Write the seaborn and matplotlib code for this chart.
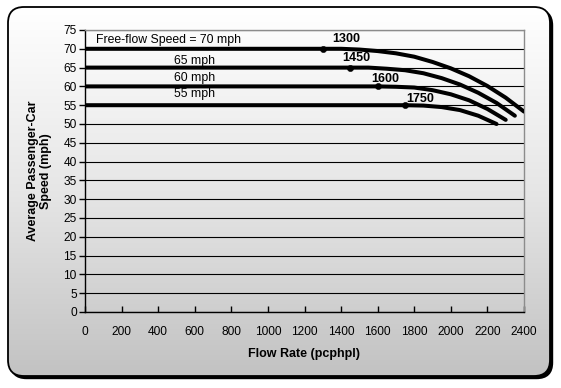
import numpy as np
import pandas as pd
import matplotlib
matplotlib.use("Agg")
import matplotlib.pyplot as plt
from matplotlib.patches import FancyBboxPatch
from matplotlib.colors import LinearSegmentedColormap
import seaborn as sns

# ---- data ----
flow_70 = [0, 1300, 1400, 1500, 1600, 1700, 1800, 1900, 2000, 2100, 2200, 2300, 2400]
speed_70 = [70, 70, 70.0, 69.8, 69.4, 68.8, 67.9, 66.5, 64.8, 62.7, 60.1, 57.0, 53.3]
flow_65 = [0, 1450, 1550, 1650, 1750, 1850, 1950, 2050, 2150, 2250, 2350]
speed_65 = [65, 65, 65.0, 64.7, 64.3, 63.5, 62.2, 60.5, 58.3, 55.6, 52.2]
flow_60 = [0, 1600, 1700, 1800, 1900, 2000, 2100, 2200, 2300]
speed_60 = [60, 60, 59.9, 59.7, 59.0, 57.9, 56.3, 54.0, 51.1]
flow_55 = [0, 1750, 1850, 1950, 2050, 2150, 2250]
speed_55 = [55, 55, 54.9, 54.5, 53.7, 52.2, 50.0]

series_names = ["70", "65", "60", "55"]
series_labels = ["Free-flow Speed = 70 mph", "65 mph", "60 mph", "55 mph"]
break_flows = [1300, 1450, 1600, 1750]
break_speeds = [70, 65, 60, 55]
break_labels = ["1300", "1450", "1600", "1750"]

x_ticks = list(range(0, 2401, 200))
y_ticks = list(range(0, 76, 5))

frames = []
for name, fx, sy in zip(series_names,
                        [flow_70, flow_65, flow_60, flow_55],
                        [speed_70, speed_65, speed_60, speed_55]):
    frames.append(pd.DataFrame({"flow": fx, "speed": sy, "series": name}))
df = pd.concat(frames, ignore_index=True)
bp = pd.DataFrame({"flow": break_flows, "speed": break_speeds})

sns.set_theme(style="white")
plt.rcParams["font.family"] = ["Liberation Sans", "DejaVu Sans"]

W, H = 561, 388
fig = plt.figure(figsize=(W / 100, H / 100), dpi=100)
fig.patch.set_facecolor("white")

# ---- background chart area (rounded, gradient, shadow) ----
bg = fig.add_axes([0, 0, 1, 1])
bg.set_xlim(0, W)
bg.set_ylim(H, 0)
bg.axis("off")
x0, y0, w, h = 8, 7, 542, 369
shadow = FancyBboxPatch((x0 + 2.5, y0 + 2.5), w, h,
                        boxstyle="round,pad=0,rounding_size=16",
                        facecolor="black", edgecolor="black", lw=1)
bg.add_patch(shadow)
box = FancyBboxPatch((x0, y0), w, h, boxstyle="round,pad=0,rounding_size=16",
                     facecolor="none", edgecolor="black", lw=1.3, zorder=3)
bg.add_patch(box)
cmap = LinearSegmentedColormap.from_list("g", ["#ffffff", "#e6e6e6", "#c2c2c2"])
grad = np.linspace(0, 1, 256).reshape(-1, 1)
im = bg.imshow(grad, cmap=cmap, extent=(x0, x0 + w, y0 + h, y0),
               aspect="auto", zorder=2, interpolation="bilinear")
clip = FancyBboxPatch((x0, y0), w, h, boxstyle="round,pad=0,rounding_size=16",
                      facecolor="none", edgecolor="none", transform=bg.transData)
bg.add_patch(clip)
im.set_clip_path(clip)

# ---- main plot ----
ax = fig.add_axes([85 / W, 1 - 312 / H, 439 / W, 282 / H])
ax.set_facecolor("none")

sns.lineplot(data=df, x="flow", y="speed", hue="series", units="series",
             estimator=None, sort=False, palette=["black"] * 4, lw=2.9,
             legend=False, ax=ax, zorder=4)
sns.scatterplot(data=bp, x="flow", y="speed", color="black", s=20,
                edgecolor="black", ax=ax, zorder=5, legend=False)

ax.set_xlim(0, 2400)
ax.set_ylim(0, 75)
ax.set_xticks(x_ticks)
ax.set_yticks(y_ticks)
ax.set_xticklabels([str(v) for v in x_ticks])
ax.set_yticklabels([str(v) for v in y_ticks])
ax.yaxis.grid(True, color="black", lw=0.8)
ax.xaxis.grid(False)
ax.set_axisbelow(True)

for s in ["left", "bottom"]:
    ax.spines[s].set_color("black")
    ax.spines[s].set_linewidth(1.0)
for s in ["top", "right"]:
    ax.spines[s].set_color("#8c8c8c")
    ax.spines[s].set_linewidth(1.0)

ax.tick_params(axis="y", direction="out", length=4, width=1, color="black",
               pad=2, labelsize=8.6, labelcolor="black", left=True)
ax.tick_params(axis="x", direction="in", length=4, width=1, color="black",
               pad=10, labelsize=8.6, labelcolor="black", bottom=True)

ax.set_xlabel("Flow Rate (pcphpl)", fontsize=9, fontweight="bold",
              color="black", labelpad=7)
ax.set_ylabel("Average Passenger-Car\nSpeed (mph)", fontsize=9,
              fontweight="bold", color="black", labelpad=8, linespacing=1.1)

# series labels
label_pos = [(60, 72.4, "left"), (601, 66.8, "center"),
             (601, 62.3, "center"), (601, 57.9, "center")]
for (lx, ly, ha), txt in zip(label_pos, series_labels):
    ax.text(lx, ly, txt, fontsize=8.8, ha=ha, va="center", color="black")

# breakpoint labels
bl_pos = [(1427, 72.6), (1485, 67.6), (1640, 62.0), (1831, 56.7)]
for (lx, ly), txt in zip(bl_pos, break_labels):
    ax.text(lx, ly, txt, fontsize=9, fontweight="bold", ha="center",
            va="center", color="black", zorder=6)

fig.savefig("out.png", dpi=100)
